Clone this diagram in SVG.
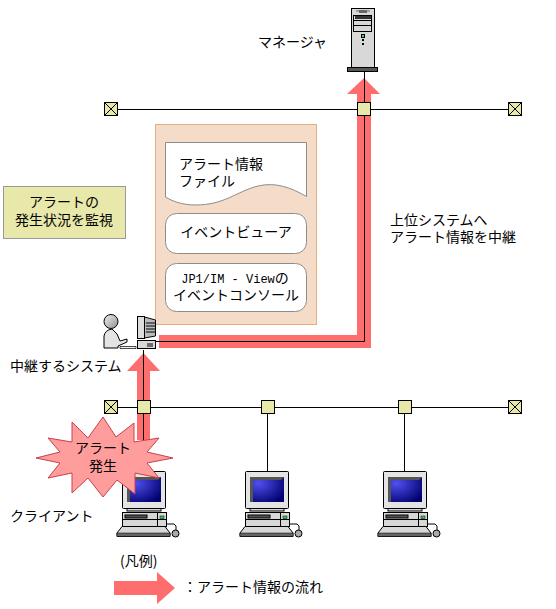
<svg xmlns="http://www.w3.org/2000/svg" width="556" height="609" viewBox="0 0 556 609">
<style>
text{font-family:"Noto Sans CJK JP","Liberation Sans",sans-serif;font-size:14px;fill:#000}
.m{text-anchor:middle}
.mono{font-family:"Liberation Mono",monospace;font-size:12px}
.line{stroke:#000;stroke-width:1;fill:none}
.flow{fill:#ff6e6e;stroke:none}
.hub{fill:#e8e8aa;stroke:#000;stroke-width:1}
.panel{fill:#fff;stroke:#8c8c8c;stroke-width:1}
.k{stroke:#000;stroke-width:1;fill:#d8d8d8}
</style>
<defs>
<radialGradient id="scr" cx="0.25" cy="0.25" r="0.9"><stop offset="0" stop-color="#5050f0"/><stop offset="1" stop-color="#00006e"/></radialGradient>
<linearGradient id="head" x1="0" y1="0" x2="1" y2="1"><stop offset="0" stop-color="#f0f0f0"/><stop offset="1" stop-color="#909090"/></linearGradient>
<symbol id="pc" overflow="visible">
<rect x="5" y="37" width="34" height="3" class="k"/>
<rect x="0.5" y="0.5" width="43" height="37" rx="1" fill="#e4e4e4" stroke="#000"/>
<rect x="5" y="6" width="34" height="25" fill="url(#scr)"/>
<path d="M5 31V6H39L36 9H8V31Z" fill="#555"/>
<rect x="0.5" y="41.5" width="44" height="14" class="k"/>
<path d="M0.5 48.5H44.5M35.5 41.5V55.5" class="line"/>
<rect x="3" y="44" width="22" height="3" fill="#555" stroke="#000"/>
<rect x="38" y="45" width="4" height="2.500" fill="#30d050" stroke="#000" stroke-width="0.5"/>
<path d="M0 55.500H43L48 62V65.500H-5V62Z" class="k"/>
<rect x="-5" y="62" width="53" height="3.500" fill="#666" stroke="#000" stroke-width="0.500"/>
<path d="M44.500 53H52Q55 54 54 59" class="line"/>
<ellipse cx="53.500" cy="62.500" rx="3.500" ry="3.500" fill="#aaa" stroke="#000"/>
</symbol>
</defs>
<rect width="556" height="609" fill="#fff"/>

<g id="connectors">
<path class="flow" d="M357 348V94H347L364 78L380 94H371V348Z"/>
<path class="flow" d="M159 335H360V348H159Z"/>
<path class="flow" d="M137 440V371H127L143.500 353L160 371H150V440Z"/>
<path class="line" d="M111 109.500H515M364.500 72V341.500H156M111 407.500H515M143.500 350V472M267.500 407V472M404.500 407V472"/>
</g>

<g id="manager">
<rect x="351.500" y="8.500" width="23" height="59" fill="#d8d8d8" stroke="#000"/>
<rect x="347.500" y="67.500" width="30" height="4" fill="#555" stroke="#000"/>
<path d="M356 11H370" stroke="#666" stroke-width="1"/><rect x="359" y="10" width="8" height="3" fill="#666"/>
<rect x="353.500" y="15.500" width="18" height="16" fill="#d8d8d8" stroke="#000"/>
<rect x="355" y="16" width="16" height="3" fill="#333"/>
<path d="M354 20.500H371M354 25.500H371" class="line"/>
<rect x="361.500" y="34.500" width="3" height="3" fill="#30e050" stroke="#000"/>
<rect x="362" y="39" width="2" height="2" fill="#000"/><rect x="362" y="43" width="2" height="2" fill="#000"/>
<text x="258" y="47">マネージャ</text>
</g>

<g id="hub-top-left"><rect class="hub" x="104.500" y="102.500" width="13" height="13"/><path class="line" d="M105 103L117 115M117 103L105 115"/></g>
<g id="hub-top-mid"><rect class="hub" x="357.500" y="102.500" width="13" height="13"/></g>
<g id="hub-top-right"><rect class="hub" x="508.500" y="102.500" width="13" height="13"/><path class="line" d="M509 103L521 115M521 103L509 115"/></g>
<g id="hub-bot-left"><rect class="hub" x="104.500" y="400.500" width="13" height="13"/><path class="line" d="M105 401L117 413M117 401L105 413"/></g>
<g id="hub-bot-1"><rect class="hub" x="137.500" y="400.500" width="13" height="13"/></g>
<g id="hub-bot-2"><rect class="hub" x="261.500" y="400.500" width="13" height="13"/></g>
<g id="hub-bot-3"><rect class="hub" x="398.500" y="400.500" width="13" height="13"/></g>
<g id="hub-bot-right"><rect class="hub" x="508.500" y="400.500" width="13" height="13"/><path class="line" d="M509 401L521 413M521 401L509 413"/></g>

<g id="monitor-note">
<rect x="3.500" y="186.500" width="122" height="52" fill="#e8e8aa" stroke="#999"/>
<text class="m" x="64" y="207">アラートの</text>
<text class="m" x="64" y="225">発生状況を監視</text>
</g>

<g id="relay-panel">
<rect x="155.500" y="124.500" width="161" height="200" fill="#f5dcc8" stroke="#e0b080"/>
<path class="panel" d="M165.500 142.500H306.500V196.500C290 187 275 182 258 186C235 192 225 205 195 205C182 205 172 201 165.500 197Z"/>
<text x="179" y="169">アラート情報</text>
<text x="179" y="186">ファイル</text>
<rect class="panel" x="165.500" y="213.500" width="141" height="40" rx="11"/>
<text class="m" x="236" y="237">イベントビューア</text>
<rect class="panel" x="165.500" y="263.500" width="141" height="48" rx="11"/>
<text class="m" x="235" y="283"><tspan class="mono">JP1/IM - View</tspan>の</text>
<text class="m" x="236" y="300">イベントコンソール</text>
</g>

<g id="relay-system">
<circle cx="111" cy="321.500" r="7" fill="url(#head)" stroke="#000"/>
<path d="M104 348V336Q105 330 112 329Q118 333 120 341L127 339V342L118 346V348Z" fill="#e4e4e4" stroke="#000"/>
<path d="M120 346.500H136V348.500H120Z" fill="#eee" stroke="#000" stroke-width="0.700"/>
<rect x="137.500" y="340.500" width="18" height="8" fill="#d8d8d8" stroke="#000"/>
<path d="M148 343V347M150 343V347M152 343V347" stroke="#000"/>
<rect x="137.500" y="316.500" width="7" height="22" fill="#ddd" stroke="#000"/>
<path d="M144.500 317L155.500 320V336L144.500 338Z" fill="#bbb" stroke="#000"/>
<path d="M146 323H155M146 326H155M146 329H155M146 332H155" stroke="#000"/>
<text x="10" y="371">中継するシステム</text>
</g>

<g id="client-1"><use href="#pc" x="122" y="471"/><text x="10" y="521">クライアント</text></g>
<g id="client-2"><use href="#pc" x="245" y="471"/></g>
<g id="client-3"><use href="#pc" x="383" y="471"/></g>

<g id="alert-burst">
<path d="M36 458L60 452L48 438L72 442L72 422L88 438L103 417L116 437L134 423L134 442L159 438L147 452L173 458L147 463L159 478L135 473L135 494L117 480L103 497L88 478L72 493L72 473L48 478L60 463Z" fill="#ff9c9c" stroke="#c84050"/>
<text class="m" x="103" y="453">アラート</text>
<text class="m" x="103" y="471">発生</text>
</g>

<g id="relay-label">
<text x="390" y="225">上位システムへ</text>
<text x="390" y="242">アラート情報を中継</text>
</g>

<g id="legend">
<text x="120" y="566">(凡例)</text>
<path class="flow" d="M114 581H157V572L175 588L157 604V595H114Z"/>
<text x="183" y="592">：アラート情報の流れ</text>
</g>
</svg>
